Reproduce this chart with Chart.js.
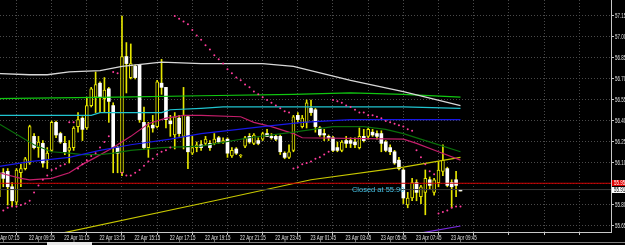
<!DOCTYPE html>
<html>
<head>
<meta charset="utf-8">
<script src="https://cdn.jsdelivr.net/npm/chart.js@4.4.0/dist/chart.umd.min.js"></script>
<style>
  html, body { margin: 0; padding: 0; background: #000; overflow: hidden; }
  #wrap { position: relative; width: 625px; height: 245px; overflow: hidden; }
  #chart { position: absolute; left: -12px; top: 0; }
</style>
</head>
<body>
<div id="wrap"><canvas id="chart" width="637" height="245"></canvas></div>
<script>
// 15 minute candles, bar numbers start at firstBar
const firstBar = 1;

const opens = [
  55.86, 56.03, 56.04, 55.93, 55.82, 56.03, 56.06, 56.10, 56.29, 56.21,
  56.24, 56.12, 56.19, 56.39, 56.31, 56.24, 56.19, 56.21, 56.36, 56.42,
  56.35, 56.51, 56.57, 56.67, 56.56, 56.63, 56.51, 56.21, 56.03, 56.86,
  56.71, 56.79, 56.80, 56.39, 56.21, 56.37, 56.36, 56.67, 56.64, 56.40,
  56.30, 56.42, 56.29, 56.43, 56.17, 56.21, 56.23, 56.24, 56.24, 56.24,
  56.28, 56.25, 56.27, 56.15, 56.20, 56.15, 56.22, 56.29, 56.24, 56.26,
  56.27, 56.31, 56.29, 56.29, 56.29, 56.17, 56.14, 56.19, 56.44, 56.36,
  56.39, 56.49, 56.48, 56.35, 56.31, 56.29, 56.28, 56.21, 56.19, 56.26,
  56.26, 56.25, 56.21, 56.29, 56.29, 56.32, 56.31, 56.31, 56.25, 56.21,
  56.18, 56.12, 56.05, 55.80, 55.85, 55.96, 55.86, 55.89, 55.98, 55.89,
  55.96, 56.04, 56.06, 55.96, 55.98, 55.91
];
const highs = [
  56.06, 56.06, 56.06, 55.96, 56.06, 56.09, 56.14, 56.37, 56.31, 56.29,
  56.26, 56.21, 56.40, 56.40, 56.32, 56.29, 56.26, 56.36, 56.46, 56.43,
  56.57, 56.64, 56.75, 56.68, 56.71, 56.64, 56.53, 56.22, 57.15, 56.96,
  56.95, 56.80, 56.80, 56.50, 56.39, 56.44, 56.69, 56.84, 56.64, 56.44,
  56.46, 56.44, 56.64, 56.44, 56.29, 56.25, 56.26, 56.29, 56.26, 56.31,
  56.29, 56.28, 56.28, 56.21, 56.21, 56.16, 56.29, 56.31, 56.31, 56.28,
  56.32, 56.34, 56.31, 56.30, 56.30, 56.18, 56.23, 56.44, 56.46, 56.44,
  56.55, 56.55, 56.49, 56.36, 56.34, 56.30, 56.29, 56.25, 56.26, 56.29,
  56.28, 56.28, 56.35, 56.34, 56.35, 56.34, 56.33, 56.33, 56.26, 56.23,
  56.19, 56.14, 56.06, 55.89, 55.99, 55.98, 55.94, 56.05, 56.00, 55.99,
  56.11, 56.23, 56.07, 55.98, 56.04, 55.91
];
const lows = [
  55.83, 55.93, 55.80, 55.79, 55.80, 55.93, 56.05, 56.09, 56.20, 56.14,
  56.07, 56.06, 56.18, 56.28, 56.24, 56.16, 56.10, 56.19, 56.32, 56.26,
  56.34, 56.50, 56.46, 56.46, 56.46, 56.39, 56.03, 56.03, 56.01, 56.60,
  56.70, 56.70, 56.39, 56.20, 56.14, 56.32, 56.35, 56.59, 56.35, 56.29,
  56.20, 56.29, 56.20, 56.06, 56.16, 56.18, 56.19, 56.23, 56.19, 56.23,
  56.24, 56.24, 56.14, 56.14, 56.16, 56.14, 56.21, 56.24, 56.23, 56.23,
  56.26, 56.29, 56.27, 56.26, 56.16, 56.13, 56.13, 56.18, 56.39, 56.35,
  56.35, 56.44, 56.32, 56.29, 56.26, 56.26, 56.18, 56.18, 56.18, 56.21,
  56.21, 56.21, 56.20, 56.25, 56.27, 56.29, 56.27, 56.18, 56.18, 56.16,
  56.09, 56.05, 55.81, 55.78, 55.83, 55.83, 55.81, 55.73, 55.91, 55.87,
  55.93, 56.01, 55.93, 55.78, 55.86, 55.90
];
const closes = [
  56.03, 55.99, 55.93, 55.83, 56.05, 56.06, 56.13, 56.36, 56.21, 56.25,
  56.10, 56.17, 56.39, 56.30, 56.25, 56.18, 56.21, 56.35, 56.41, 56.34,
  56.51, 56.63, 56.66, 56.57, 56.62, 56.54, 56.21, 56.17, 56.86, 56.81,
  56.81, 56.71, 56.41, 56.21, 56.36, 56.35, 56.68, 56.64, 56.41, 56.38,
  56.43, 56.31, 56.44, 56.18, 56.21, 56.23, 56.21, 56.27, 56.21, 56.27,
  56.25, 56.26, 56.17, 56.19, 56.17, 56.15, 56.28, 56.25, 56.30, 56.24,
  56.31, 56.29, 56.28, 56.27, 56.18, 56.14, 56.18, 56.43, 56.41, 56.42,
  56.53, 56.46, 56.36, 56.30, 56.30, 56.28, 56.19, 56.19, 56.25, 56.24,
  56.24, 56.23, 56.29, 56.26, 56.34, 56.30, 56.29, 56.24, 56.19, 56.18,
  56.10, 56.06, 55.85, 55.85, 55.96, 55.89, 55.93, 55.99, 55.94, 55.98,
  56.05, 56.12, 55.94, 55.93, 55.94, 55.90
];

// parabolic SAR, one dot per candle
const sar = [
  55.75, 55.76, 55.78, 55.79, 55.79, 55.80, 55.81, 55.83, 55.89, 55.94,
  55.98, 56.01, 56.05, 56.06, 56.08, 56.09, 56.39, 56.39, 56.06, 56.09,
  56.12, 56.15, 56.17, 56.21, 56.25, 56.29, 56.75, 56.74, 56.03, 56.01,
  56.01, 56.03, 56.05, 56.08, 56.11, 56.13, 56.16, 56.18, 56.19, 56.21,
  57.15, 57.13, 57.11, 57.09, 57.05, 57.01, 56.98, 56.94, 56.91, 56.87,
  56.84, 56.81, 56.77, 56.74, 56.71, 56.69, 56.66, 56.64, 56.61, 56.59,
  56.57, 56.55, 56.53, 56.51, 56.49, 56.47, 56.46, 56.06, 56.07, 56.09,
  56.10, 56.11, 56.13, 56.14, 56.16, 56.18, 56.55, 56.54, 56.53, 56.51,
  56.50, 56.48, 56.46, 56.46, 56.44, 56.44, 56.43, 56.42, 56.40, 56.39,
  56.38, 56.37, 56.36, 56.34, 56.33, 56.19, 56.14, 56.09, 56.04, 56.02,
  55.74, 55.75, 55.76, 55.78, 55.79, 55.79
];

// moving averages, read at a few bars each
const silverBars = [0, 8, 12, 17, 24, 29, 38, 47, 61, 68, 81, 93, 106];
const silverVals = [56.74, 56.73, 56.73, 56.75, 56.76, 56.79, 56.82, 56.81, 56.81, 56.79, 56.69, 56.61, 56.51];
const limeBars = [0, 28, 47, 68, 81, 93, 106];
const limeVals = [56.56, 56.57, 56.58, 56.59, 56.60, 56.59, 56.57];
const cyanBars = [0, 22, 24, 38, 40, 47, 52, 93, 106];
const cyanVals = [56.44, 56.44, 56.46, 56.46, 56.48, 56.49, 56.50, 56.50, 56.49];
const blueBars = [0, 8, 17, 24, 31, 40, 47, 61, 70, 81, 106];
const blueVals = [56.07, 56.11, 56.14, 56.19, 56.23, 56.27, 56.31, 56.36, 56.39, 56.41, 56.41];
const dkGreenBars = [-1, 1, 9, 13, 17, 20, 24, 27, 31, 38, 47, 58, 68, 77, 84, 89, 93, 100, 106];
const dkGreenVals = [56.40, 56.38, 56.23, 56.18, 56.17, 56.16, 56.16, 56.17, 56.19, 56.21, 56.22, 56.28, 56.32, 56.36, 56.36, 56.34, 56.31, 56.24, 56.18];
const crimsonBars = [-1, 1, 6, 8, 13, 17, 20, 23, 27, 31, 35, 39, 43, 47, 56, 59, 63, 68, 70, 93, 96, 101, 106];
const crimsonVals = [56.05, 56.03, 55.99, 55.98, 55.99, 56.03, 56.09, 56.14, 56.21, 56.29, 56.38, 56.42, 56.44, 56.44, 56.43, 56.39, 56.36, 56.31, 56.28, 56.27, 56.24, 56.18, 56.12];
const yellowBars = [14, 50, 72, 93, 106];
const yellowVals = [55.59, 55.83, 55.98, 56.07, 56.14];
const purpleBars = [97, 106];
const purpleVals = [55.60, 55.65];

// horizontal price lines
const askLine = 55.955;
const bidLine = 55.91;

// axis
const timeLabels = ['22 Apr 07:15', '22 Apr 09:15', '22 Apr 11:15', '22 Apr 13:15', '22 Apr 15:15',
  '22 Apr 17:15', '22 Apr 19:15', '22 Apr 21:15', '22 Apr 23:45', '23 Apr 01:45',
  '23 Apr 03:45', '23 Apr 05:45', '23 Apr 07:45', '23 Apr 09:45'];
const gridBars = [1, 9, 17, 25, 33, 41, 49, 57, 65, 73, 81, 89, 97, 105, 113, 121, 129, 137];
const priceTicks = [55.65, 55.80, 55.95, 56.10, 56.25, 56.40, 56.55, 56.70, 56.85, 57.00, 57.15];
const xMin = -1.48, xMax = 140.24;
const yMin = 55.607, yMax = 57.264;

const noteText = 'Closed at 55.90';
const noteBar = 81.3, notePrice = 55.91;

const labelFont = "7px 'Liberation Sans', Arial, sans-serif";

const wickData = opens.map((o, k) => ({ x: firstBar + k, y: [lows[k], highs[k]] }));
const bullData = [];
const bearData = [];
opens.forEach((o, k) => {
    const body = { x: firstBar + k, y: [o, closes[k]] };
    if (closes[k] >= o) bullData.push(body);
    else bearData.push(body);
});

function maLine(bars, vals, color, width, order) {
    return {
        type: 'line',
        data: bars.map((b, k) => ({ x: b, y: vals[k] })),
        borderColor: color,
        borderWidth: width,
        pointRadius: 0,
        tension: 0,
        clip: 0,
        order: order
    };
}

// the terminal uses a narrow pixel font, so squeeze the text a bit
function narrowText(ctx, text, px, py, color) {
    ctx.save();
    ctx.translate(px, py);
    ctx.scale(0.64, 1);
    ctx.fillStyle = color;
    ctx.fillText(text, 0, 0);
    ctx.restore();
}

const extras = {
    id: 'extras',
    afterDraw(chart) {
        const { ctx, chartArea, scales } = chart;
        const x = scales.x, y = scales.y;
        ctx.save();
        ctx.font = labelFont;

        // time labels
        ctx.textBaseline = 'top';
        gridBars.forEach((b, k) => {
            if (!timeLabels[k]) return;
            narrowText(ctx, timeLabels[k], x.getPixelForValue(b) - 5, chartArea.bottom + 3, '#e0e0e0');
        });

        // price labels
        ctx.textBaseline = 'middle';
        priceTicks.forEach(v => {
            narrowText(ctx, v.toFixed(2), chartArea.right + 4, y.getPixelForValue(v) + 0.5, '#e0e0e0');
        });

        // price boxes on the right scale
        [[askLine, '#e00000', '#ffffff'], [bidLine, '#ffffff', '#000000']].forEach(([p, bg, fg]) => {
            const py = Math.round(y.getPixelForValue(p));
            ctx.fillStyle = bg;
            ctx.fillRect(chartArea.right + 1, py - 3, 20, 6);
            narrowText(ctx, p.toFixed(2), chartArea.right + 3, py + 0.5, fg);
        });

        // closed order note
        ctx.font = "7.5px 'Liberation Sans', Arial, sans-serif";
        ctx.fillStyle = '#46c3e6';
        ctx.fillText(noteText, x.getPixelForValue(noteBar), y.getPixelForValue(notePrice));

        // scroll strip at the bottom
        ctx.fillStyle = '#808080';
        ctx.fillRect(0, chart.height - 3, chart.width, 1);
        ctx.fillStyle = '#e8e8e8';
        ctx.fillRect(59, chart.height - 3, 45, 3);
        ctx.restore();
    }
};

new Chart(document.getElementById('chart'), {
    type: 'bar',
    data: {
        datasets: [
            { data: wickData, backgroundColor: '#e6e600', barThickness: 1, grouped: false, order: 9 },
            { data: bullData, backgroundColor: '#000000', borderColor: '#e6e600', borderWidth: 1,
              borderSkipped: false, barThickness: 3, minBarLength: 1, grouped: false, order: 8 },
            { data: bearData, backgroundColor: '#ffffff', borderWidth: 0,
              barThickness: 3, minBarLength: 1, grouped: false, order: 7 },
            maLine(silverBars, silverVals, '#d8d8d8', 1.3, 5),
            maLine(limeBars, limeVals, '#10c810', 1.2, 5),
            maLine(cyanBars, cyanVals, '#20c4d0', 1.2, 5),
            maLine(blueBars, blueVals, '#1818e6', 1.2, 5),
            maLine(dkGreenBars, dkGreenVals, '#0a6e0a', 1.2, 5),
            maLine(crimsonBars, crimsonVals, '#c41e6a', 1.2, 5),
            maLine(yellowBars, yellowVals, '#c8c800', 1.2, 5),
            maLine(purpleBars, purpleVals, '#7a2be0', 1.2, 5),
            maLine([xMin, xMax], [askLine, askLine], '#d00000', 1, 2),
            maLine([xMin, xMax], [bidLine, bidLine], '#3a3a3a', 1, 3),
            {
                type: 'line',
                data: sar.map((v, k) => ({ x: firstBar + k, y: v })),
                showLine: false,
                pointRadius: 1,
                pointBorderWidth: 0,
                pointBackgroundColor: '#ff3c9c',
                order: 0
            }
        ]
    },
    options: {
        responsive: false,
        animation: false,
        events: [],
        layout: { padding: 0, autoPadding: false },
        plugins: { legend: { display: false }, tooltip: { enabled: false } },
        scales: {
            x: {
                type: 'linear',
                min: xMin,
                max: xMax,
                offset: false,
                afterBuildTicks: s => { s.ticks = gridBars.map(v => ({ value: v })); },
                afterFit: s => {
                    s.height = 13;
                    s.paddingLeft = 0; s.paddingRight = 0;
                    s.paddingTop = 0; s.paddingBottom = 0;
                },
                grid: { color: '#4a4a4a', tickColor: '#c8c8c8', tickLength: 3 },
                border: { color: '#c8c8c8', dash: [1, 2] },
                ticks: { display: false }
            },
            y: {
                position: 'right',
                min: yMin,
                max: yMax,
                offset: false,
                afterBuildTicks: s => { s.ticks = priceTicks.map(v => ({ value: v })); },
                afterFit: s => {
                    s.width = 14;
                    s.paddingLeft = 0; s.paddingRight = 0;
                    s.paddingTop = 0; s.paddingBottom = 0;
                },
                grid: { color: '#4a4a4a', tickColor: '#c8c8c8', tickLength: 3 },
                border: { color: '#c8c8c8', dash: [1, 2] },
                ticks: { display: false }
            }
        }
    },
    plugins: [extras]
});
</script>
</body>
</html>
